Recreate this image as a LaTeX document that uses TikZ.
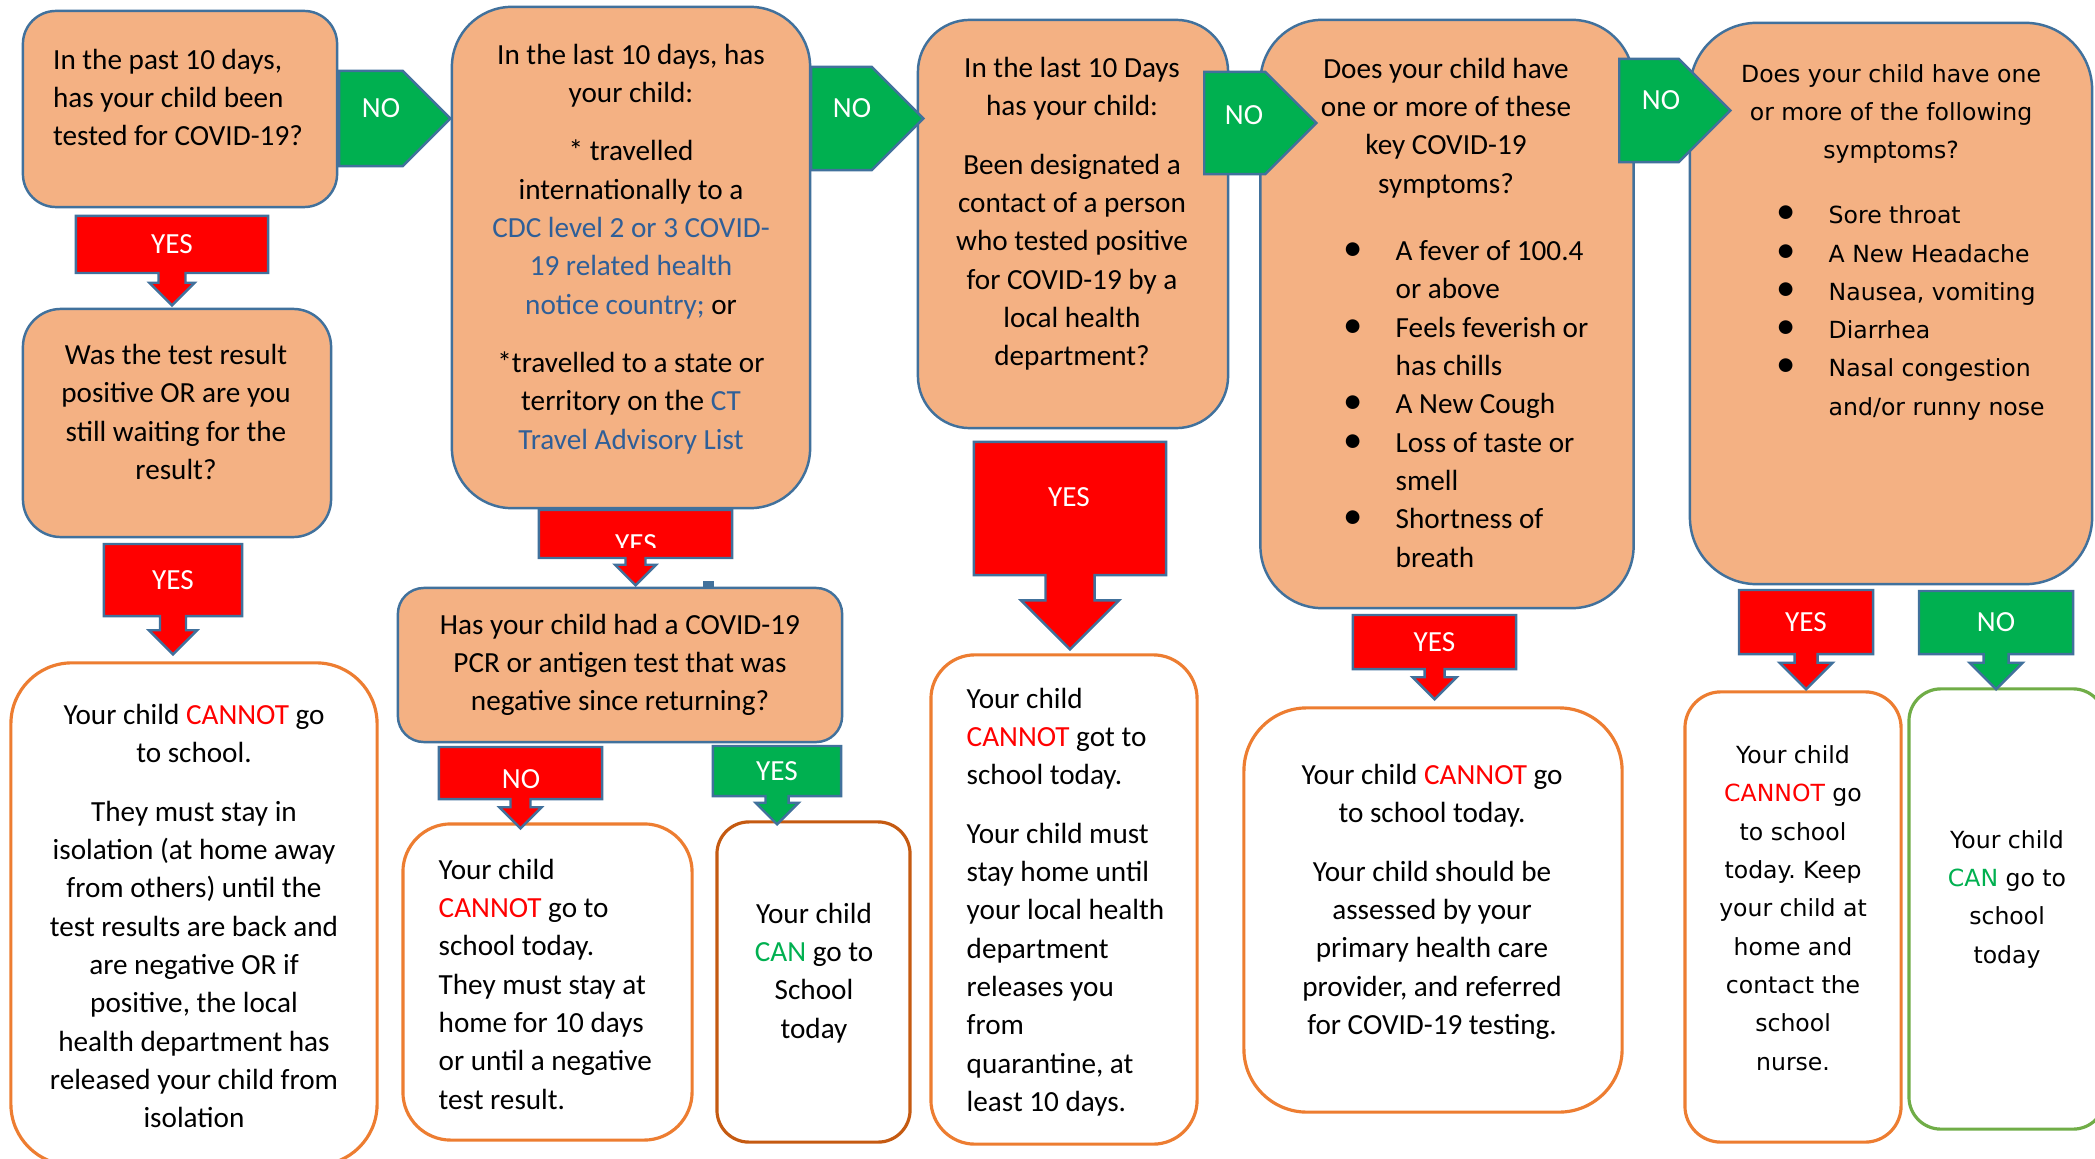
\documentclass[tikz,border=0pt]{standalone}
\usepackage{fontspec}
\setmainfont{Carlito}
\newfontfamily\verdana{DejaVu Sans}
\newfontfamily\dotfont{Carlito}
\usetikzlibrary{shapes.arrows,shapes.symbols,positioning}

\definecolor{qfill}{HTML}{F4B183}
\definecolor{qline}{HTML}{41719C}
\definecolor{stopred}{HTML}{FF0000}
\definecolor{gogreen}{HTML}{00B050}
\definecolor{rline}{HTML}{ED7D31}
\definecolor{rlinedark}{HTML}{C55A11}
\definecolor{okline}{HTML}{70AD47}
\definecolor{linkblue}{HTML}{2F5F98}

\newcommand\itm{\llap{{\dotfont\fontsize{11}{0}\selectfont\textbullet}\hspace{9.5pt}}}
\newcommand\no[1]{{\color{stopred}#1}}
\newcommand\ok[1]{{\color{gogreen}#1}}
\newcommand\lnk[1]{{\color{linkblue}#1}}
\frenchspacing

\begin{document}
\begin{tikzpicture}[x=0.01cm,y=-0.01cm,
    question/.style={draw=qline,fill=qfill,line width=0.7pt,inner sep=0pt},
    answer/.style={draw=rline,fill=white,line width=0.9pt,inner sep=0pt},
    txt/.style={align=center,inner sep=0pt,font=\fontsize{8.3}{10.9}\selectfont},
    vtxt/.style={txt,font=\verdana\fontsize{6.7}{10.9}\selectfont},
    callout/.style={arrow box,draw=qline,line width=0.7pt,text=white,inner sep=0pt,
      font=\fontsize{8.3}{10}\selectfont,arrow box tip angle=90},
    yesdown/.style={callout,fill=stopred},
    okdown/.style={callout,fill=gogreen},
    noright/.style={signal,signal to=east,draw=qline,fill=gogreen,line width=0.7pt,inner sep=0pt},
    lbl/.style={text=white,inner sep=0pt,font=\fontsize{8.3}{10}\selectfont}]
  \path[fill=white,use as bounding box] (0,0) rectangle (2095,1158);

  % questions
  \node[question,minimum width=3.14cm,minimum height=1.96cm,rounded corners=0.33cm] (tested) at (180,109) {};
  \node[question,minimum width=3.08cm,minimum height=2.28cm,rounded corners=0.38cm] (waiting) at (177,423) {};
  \node[question,minimum width=3.58cm,minimum height=5.01cm,rounded corners=0.6cm] (travel) at (631,257.5) {};
  \node[question,minimum width=4.44cm,minimum height=1.54cm,rounded corners=0.26cm] (negtest) at (620,665) {};
  \node[question,minimum width=3.10cm,minimum height=4.08cm,rounded corners=0.52cm] (contact) at (1073,224) {};
  \node[question,minimum width=3.73cm,minimum height=5.88cm,rounded corners=0.62cm] (keysym) at (1447,314) {};
  \node[question,minimum width=4.02cm,minimum height=5.61cm,rounded corners=0.67cm] (othersym) at (1891,303.5) {};
  \fill[qline] (703,581) rectangle (714,589);

  \node[txt,align=left] (tested-t) at (178,97.5) {In the past 10 days,\\has your child been\\tested for COVID-19?};
  \node[txt] (waiting-t) at (176,412) {Was the test result\\positive OR are you\\still waiting for the\\result?};
  \node[txt] (travel-t) at (631,249) {In the last 10 days, has\\your child:\\[5.7pt]
    * travelled\\internationally to a\\\lnk{CDC level 2 or 3 COVID-}\\\lnk{19 related health}\\\lnk{notice country;} or\\[5.7pt]
    *travelled to a state or\\territory on the \lnk{CT}\\\lnk{Travel Advisory List}};
  \node[txt] (negtest-t) at (620,665) {Has your child had a COVID-19\\PCR or antigen test that was\\negative since returning?};
  \node[txt] (contact-t) at (1072,214) {In the last 10 Days\\has your child:\\[5.7pt]Been designated a\\contact of a person\\who tested positive\\for COVID-19 by a\\local health\\department?};
  \node[txt] (keysym-t) at (1446,128) {Does your child have\\one or more of these\\key COVID-19\\symptoms?};
  \node[txt,align=left,anchor=west] (keysym-l) at (1395,404) {\itm A fever of 100.4\\or above\\\itm Feels feverish or\\has chills\\\itm A New Cough\\\itm Loss of taste or\\smell\\\itm Shortness of\\breath};
  \node[vtxt] (othersym-t) at (1891,114) {Does your child have one\\or more of the following\\symptoms?};
  \node[vtxt,align=left,anchor=west] (othersym-l) at (1828,313) {\itm Sore throat\\\itm A New Headache\\\itm Nausea, vomiting\\\itm Diarrhea\\\itm Nasal congestion\\and/or runny nose};

  % outcomes
  \node[answer,minimum width=3.66cm,minimum height=5.02cm,rounded corners=0.61cm] (isolate) at (194,914) {};
  \node[answer,minimum width=2.89cm,minimum height=3.16cm,rounded corners=0.48cm] (stayhome) at (547.5,982) {};
  \node[answer,draw=rlinedark,minimum width=1.93cm,minimum height=3.20cm,rounded corners=0.32cm] (cango) at (813.5,982) {};
  \node[answer,minimum width=2.66cm,minimum height=4.89cm,rounded corners=0.44cm] (quarantine) at (1064,899.5) {};
  \node[answer,minimum width=3.78cm,minimum height=4.04cm,rounded corners=0.63cm] (assess) at (1433,910) {};
  \node[answer,minimum width=2.16cm,minimum height=4.50cm,rounded corners=0.36cm] (nurse) at (1793,917) {};
  \node[answer,draw=okline,minimum width=1.96cm,minimum height=4.40cm,rounded corners=0.32cm] (cangoE) at (2007,909) {};

  \node[txt] (isolate-t) at (194,916) {Your child \no{CANNOT} go\\to school.\\[5.7pt]They must stay in\\isolation (at home away\\from others) until the\\test results are back and\\are negative OR if\\positive, the local\\health department has\\released your child from\\isolation};
  \node[txt,align=left,anchor=west] (stayhome-t) at (438,984) {Your child\\\no{CANNOT} go to\\school today.\\They must stay at\\home for 10 days\\or until a negative\\test result.};
  \node[txt] (cango-t) at (814,973) {Your child\\\ok{CAN} go to\\School\\today};
  \node[txt,align=left,anchor=west] (quarantine-t) at (966,902) {Your child\\\no{CANNOT} got to\\school today.\\[5.7pt]Your child must\\stay home until\\your local health\\department\\releases you\\from\\quarantine, at\\least 10 days.};
  \node[txt] (assess-t) at (1432,902) {Your child \no{CANNOT} go\\to school today.\\[5.7pt]Your child should be\\assessed by your\\primary health care\\provider, and referred\\for COVID-19 testing.};
  \node[vtxt] (nurse-t) at (1793,908) {Your child\\\no{CANNOT} go\\to school\\today. Keep\\your child at\\home and\\contact the\\school\\nurse.};
  \node[vtxt] (cangoE-t) at (2007,899) {Your child\\\ok{CAN} go to\\school\\today};

  % yes / no arrows
  \node[noright,minimum width=1.11cm,minimum height=0.95cm,anchor=west] (no1) at (338,118.5) {};
  \node[noright,minimum width=1.12cm,minimum height=1.03cm,anchor=west] (no2) at (810,118.5) {};
  \node[noright,minimum width=1.12cm,minimum height=1.02cm,anchor=west] (no3) at (1203,123) {};
  \node[noright,minimum width=1.11cm,minimum height=1.03cm,anchor=west] (no4) at (1618,110.5) {};
  \node[lbl] (no1-t) at (381,108) {NO};
  \node[lbl] (no2-t) at (852,108) {NO};
  \node[lbl] (no3-t) at (1244,115) {NO};
  \node[lbl] (no4-t) at (1661,100) {NO};

  \node[yesdown,minimum width=1.92cm,minimum height=0.57cm,arrow box shaft width=0.27cm,
    arrow box head extend=0.09cm,arrow box arrows={south:0.31cm from border}] (yes1) at (172,244.5) {YES};
  \node[yesdown,minimum width=1.38cm,minimum height=0.72cm,arrow box shaft width=0.26cm,
    arrow box head extend=0.11cm,arrow box arrows={south:0.37cm from border}] (yes2) at (173,580) {YES};
  \node[yesdown,minimum width=1.93cm,minimum height=0.48cm,arrow box shaft width=0.20cm,
    arrow box head extend=0.105cm,arrow box arrows={south:0.26cm from border}] (yes3) at (635.5,534) {};
  \begin{scope}
    \clip (540,510) rectangle (732,547);
    \node[lbl] (yes3-t) at (636,544) {YES};
  \end{scope}
  \node[yesdown,minimum width=1.63cm,minimum height=0.52cm,arrow box shaft width=0.20cm,
    arrow box head extend=0.11cm,arrow box arrows={south:0.28cm from border}] (no5) at (520.5,773) {};
  \node[lbl] (no5-t) at (521,779) {NO};
  \node[okdown,minimum width=1.28cm,minimum height=0.50cm,arrow box shaft width=0.23cm,
    arrow box head extend=0.10cm,arrow box arrows={south:0.27cm from border}] (yes4) at (777,771) {YES};
  \node[yesdown,minimum width=1.92cm,minimum height=1.33cm,arrow box shaft width=0.49cm,
    arrow box head extend=0.245cm,arrow box arrows={south:0.73cm from border}] (yes5) at (1070,508.5) {};
  \node[lbl] (yes5-t) at (1069,497) {YES};
  \node[yesdown,minimum width=1.63cm,minimum height=0.54cm,arrow box shaft width=0.20cm,
    arrow box head extend=0.12cm,arrow box arrows={south:0.29cm from border}] (yes6) at (1434.5,642) {YES};
  \node[yesdown,minimum width=1.34cm,minimum height=0.64cm,arrow box shaft width=0.23cm,
    arrow box head extend=0.15cm,arrow box arrows={south:0.34cm from border}] (yes7) at (1806,622) {YES};
  \node[okdown,minimum width=1.54cm,minimum height=0.63cm,arrow box shaft width=0.25cm,
    arrow box head extend=0.14cm,arrow box arrows={south:0.34cm from border}] (no6) at (1996,622.5) {NO};
\end{tikzpicture}
\end{document}
